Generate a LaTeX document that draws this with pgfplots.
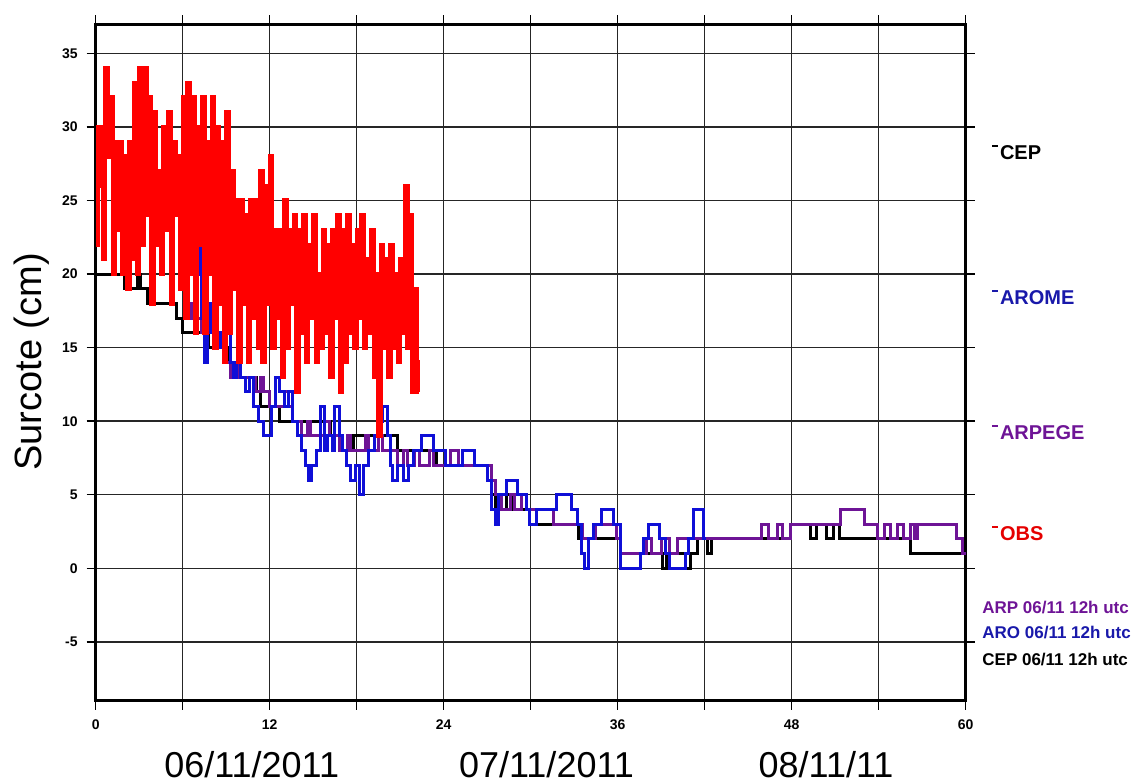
\documentclass[border=0pt]{standalone}
\usepackage{pgfplots}
\pgfplotsset{compat=1.18}
\usepackage{fontspec}
\setmainfont{Liberation Sans}
\definecolor{arpege}{RGB}{110,20,150}
\definecolor{arome}{RGB}{15,15,215}
\definecolor{arometxt}{RGB}{25,25,170}
\definecolor{obsred}{RGB}{255,0,0}
\newcommand{\dash}{\raisebox{0.62em}{\rule{2.6pt}{1pt}}\hspace{1.2pt}}
\begin{document}
\begin{tikzpicture}[x=1pt,y=1pt]
\begin{axis}[
  at={(0,0)}, anchor=south west,
  scale only axis, width=435pt, height=338.35pt,
  xmin=0, xmax=60, ymin=-9, ymax=37,
  xtick={0,6,...,60}, xticklabels={0,,12,,24,,36,,48,,60},
  ytick={-5,0,...,35}, yticklabels={-5,0,5,10,15,20,25,30,35},
  grid=major, major grid style={black!85, line width=0.7pt},
  axis line style={line width=1.5pt},
  tick align=outside, major tick length=4.5pt,
  tick style={black, line width=0.7pt},
  ticklabel style={font=\fontsize{7}{8}\selectfont\bfseries},
  xticklabel style={yshift=-1.5pt},
  yticklabel style={xshift=-1pt},
  clip=false,
  line join=miter,
]
% CEP (black)
\addplot[black, line width=1.5pt, const plot] coordinates {
(0,20) (2.0,19) (2.9,20) (3.1,19) (3.6,18) (5.6,17) (6.0,16) (7.8,15) (9.1,14) (9.7,13)
(11.1,12) (11.4,11) (12.7,10) (16.2,9) (17.0,8) (17.8,9) (20.8,8) (23.5,7) (27.3,5) (27.6,4)
(28.3,5) (28.7,4) (30.4,3) (33.3,2) (36.2,1) (39.1,0) (39.4,1) (40.7,0) (41.0,1) (41.5,2)
(42.2,1) (42.5,2) (47.9,3) (49.3,2) (49.7,3) (50.4,2) (50.9,3) (51.3,2) (56.2,1) (60,1)
};
% ARPEGE (purple)
\addplot[arpege, line width=1.5pt, const plot] coordinates {
(6.0,18) (6.6,17) (7.3,16) (8.4,15) (8.9,14) (9.3,13) (9.6,14) (9.8,13) (11.0,12) (11.4,13)
(11.6,12) (12.0,11) (13.0,12) (13.3,11) (13.6,10) (14.2,9) (14.6,10) (14.8,9) (15.8,10) (16.1,9)
(16.8,8) (17.4,9) (17.6,8) (18.6,9) (18.8,8) (19.5,9) (19.8,8) (20.8,7) (21.2,8) (21.5,7)
(22.0,8) (22.3,7) (23.0,8) (23.3,7) (24.0,7) (24.5,8) (25.0,7) (27.3,6) (27.6,5) (28.0,4)
(28.6,5) (28.9,4) (29.4,5) (29.7,4) (31.6,3) (33.6,2) (34.5,3) (35.9,2) (36.2,1) (38.0,2)
(38.3,1) (39.0,2) (39.6,1) (40.1,2) (45.9,3) (46.4,2) (47.0,3) (47.4,2) (47.9,3) (51.4,4)
(53.0,3) (53.9,2) (54.4,3) (54.8,2) (55.3,3) (55.7,2) (56.2,3) (56.5,2) (56.7,3) (59.4,2)
(59.8,1) (60,1)
};
% AROME (blue)
\addplot[arome, line width=1.5pt, const plot] coordinates {
(6.0,18) (6.4,21) (6.8,22) (7.0,23) (7.2,20) (7.3,17) (7.5,14) (7.7,16) (7.9,18) (8.1,17)
(8.3,16) (8.6,15) (8.8,16) (9.1,17) (9.3,14) (9.5,13) (9.7,14) (10.0,13) (10.3,12) (10.6,13)
(10.9,11) (11.2,10) (11.6,9) (12.1,11) (12.4,13) (12.7,12) (13.0,11) (13.3,12) (13.6,10) (13.9,9)
(14.2,8) (14.5,7) (14.7,6) (14.9,7) (15.2,8) (15.5,11) (15.8,8) (16.0,9) (16.3,8) (16.5,11)
(16.8,9) (17.0,8) (17.3,7) (17.6,6) (17.9,7) (18.2,5) (18.5,7) (18.8,8) (19.2,9) (19.5,10)
(19.8,11) (20.1,9) (20.3,7) (20.5,6) (20.8,7) (21.2,6) (21.6,7) (21.9,8) (22.5,9) (23.3,8)
(24.1,7) (25.3,8) (26.1,7) (27.0,6) (27.3,4) (27.6,3) (27.8,5) (28.3,6) (29.1,5) (29.7,4)
(29.9,3) (30.4,4) (31.8,5) (32.8,4) (33.2,3) (33.5,1) (33.7,0) (34.0,2) (34.3,3) (34.9,4)
(35.7,3) (36.2,0) (37.6,1) (37.8,2) (38.1,3) (38.9,2) (39.3,1) (39.6,0) (40.7,1) (40.9,2)
(41.2,4) (41.9,2) (42.1,2)
};
% OBS (red)
\addplot[obsred, line width=2.1pt, const plot] coordinates {
(0.000,22) (0.167,30) (0.333,26) (0.500,21) (0.667,34) (0.833,28)
(1.000,32) (1.167,20) (1.333,29) (1.500,23) (1.667,29) (1.833,20)
(2.000,28) (2.167,19) (2.333,29) (2.500,21) (2.667,33) (2.833,20)
(3.000,34) (3.167,22) (3.333,34) (3.500,24) (3.667,32) (3.833,18)
(4.000,31) (4.167,22) (4.333,27) (4.500,20) (4.667,30) (4.833,23)
(5.000,31) (5.167,18) (5.333,29) (5.500,24) (5.667,28) (5.833,19)
(6.000,32) (6.167,17) (6.333,33) (6.500,20) (6.667,32) (6.833,16)
(7.000,30) (7.167,22) (7.333,32) (7.500,16) (7.667,29) (7.833,20)
(8.000,32) (8.167,15) (8.333,30) (8.500,18) (8.667,29) (8.833,14)
(9.000,31) (9.167,16) (9.333,27) (9.500,19) (9.667,25) (9.833,14)
(10.000,25) (10.167,18) (10.333,24) (10.500,14) (10.667,25) (10.833,17)
(11.000,25) (11.167,15) (11.333,27) (11.500,14) (11.667,26) (11.833,18)
(12.000,28) (12.167,15) (12.333,23) (12.500,17) (12.667,23) (12.833,13)
(13.000,25) (13.167,15) (13.333,23) (13.500,18) (13.667,24) (13.833,12)
(14.000,23) (14.167,16) (14.333,24) (14.500,14) (14.667,22) (14.833,17)
(15.000,24) (15.167,14) (15.333,20) (15.500,15) (15.667,23) (15.833,16)
(16.000,22) (16.167,13) (16.333,23) (16.500,17) (16.667,24) (16.833,12)
(17.000,23) (17.167,14) (17.333,24) (17.500,16) (17.667,22) (17.833,15)
(18.000,23) (18.167,17) (18.333,24) (18.500,15) (18.667,21) (18.833,16)
(19.000,23) (19.167,13) (19.333,20) (19.500,9) (19.667,22) (19.833,15)
(20.000,21) (20.167,13) (20.333,22) (20.500,15) (20.667,20) (20.833,14)
(21.000,21) (21.167,16) (21.333,26) (21.500,15) (21.667,24) (21.833,12)
(22.000,19) (22.167,14) (22.250,12) (22.300,12)
};
\end{axis}
% y label
\node[rotate=90, inner sep=0pt, font=\fontsize{19}{22}\selectfont] at (-31.85,169.35) {Surcote (cm)};
% right-hand labels
\node[anchor=west, inner sep=0pt, font=\fontsize{10}{12}\selectfont\bfseries, text=black] at (448.15,274.35) {\dash CEP};
\node[anchor=west, inner sep=0pt, font=\fontsize{10}{12}\selectfont\bfseries, text=arometxt] at (448.15,201.85) {\dash AROME};
\node[anchor=west, inner sep=0pt, font=\fontsize{10}{12}\selectfont\bfseries, text=arpege] at (448.15,134.35) {\dash ARPEGE};
\node[anchor=west, inner sep=0pt, font=\fontsize{10}{12}\selectfont\bfseries, text=obsred!90!black] at (448.15,83.85) {\dash OBS};
\node[anchor=west, inner sep=0pt, font=\fontsize{8.5}{10}\selectfont\bfseries, text=arpege] at (443.15,46.35) {ARP 06/11 12h utc};
\node[anchor=west, inner sep=0pt, font=\fontsize{8.5}{10}\selectfont\bfseries, text=arometxt] at (443.15,33.85) {ARO 06/11 12h utc};
\node[anchor=west, inner sep=0pt, font=\fontsize{8.5}{10}\selectfont\bfseries, text=black] at (443.15,20.35) {CEP 06/11 12h utc};
% date labels
\node[inner sep=0pt, font=\fontsize{18}{20}\selectfont] at (78,-32.15) {06/11/2011};
\node[inner sep=0pt, font=\fontsize{18}{20}\selectfont] at (225.4,-32.15) {07/11/2011};
\node[inner sep=0pt, font=\fontsize{18}{20}\selectfont] at (365.15,-32.15) {08/11/11};
\pgfresetboundingbox
\path (-47.85,-41.15) rectangle (520.65,350.35);
\end{tikzpicture}
\end{document}
